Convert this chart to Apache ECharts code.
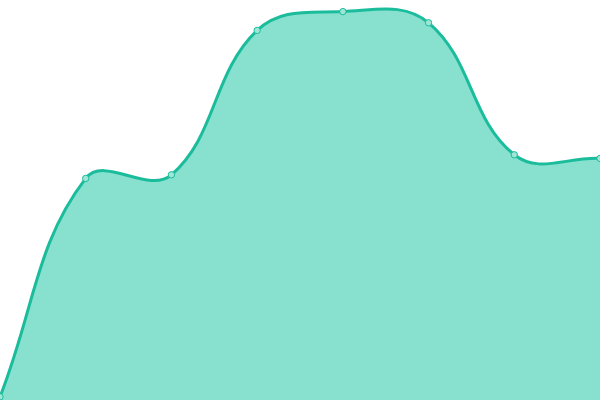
<!DOCTYPE html>
<html>
<head>
<meta charset="utf-8">
<style>
  html, body { margin: 0; padding: 0; background: #fff; }
  #main { width: 600px; height: 400px; }
</style>
<script src="https://cdn.jsdelivr.net/npm/echarts@6/dist/echarts.min.js"></script>
</head>
<body>
<div id="main"></div>
<script>
var categories = ["1", "2", "3", "4", "5", "6", "7", "8"];
var values = [0.8, 55.4, 56.3, 92.4, 97.1, 94.3, 61.3, 60.4];

var LINE = "#1abc9c";
var AREA = "#88e0cf";
var TENSION = 0.4;

var chart = echarts.init(document.getElementById("main"));

// cardinal-style bezier: tangent from prev -> next, split by segment length;
// end points use themselves as missing neighbour
function buildPath(pts, baseY, box) {
  var n = pts.length;
  var cps = pts.map(function (p, i) {
    var prev = pts[i - 1] || p;
    var next = pts[i + 1] || p;
    var d01 = Math.hypot(p[0] - prev[0], p[1] - prev[1]);
    var d12 = Math.hypot(next[0] - p[0], next[1] - p[1]);
    var s01 = d01 / (d01 + d12) || 0;
    var s12 = d12 / (d01 + d12) || 0;
    var fa = TENSION * s01, fb = TENSION * s12;
    var dx = next[0] - prev[0], dy = next[1] - prev[1];
    return {
      before: clamp([p[0] - fa * dx, p[1] - fa * dy]),
      after: clamp([p[0] + fb * dx, p[1] + fb * dy])
    };
  });
  function clamp(c) {
    return [Math.min(Math.max(c[0], box.x0), box.x1), Math.min(Math.max(c[1], box.y0), box.y1)];
  }
  var d = "M" + pts[0][0] + " " + pts[0][1];
  for (var i = 1; i < n; i++) {
    var a = cps[i - 1].after, b = cps[i].before, p = pts[i];
    d += " C" + a[0] + " " + a[1] + " " + b[0] + " " + b[1] + " " + p[0] + " " + p[1];
  }
  var area = d + " L" + pts[n - 1][0] + " " + baseY + " L" + pts[0][0] + " " + baseY + " Z";
  return { line: d, area: area };
}

function renderItem(params, api) {
  var idx = params.dataIndex;
  var pt = api.coord([idx, values[idx]]);
  var children = [];
  if (idx === 0) {
    var pts = values.map(function (v, i) { return api.coord([i, v]); });
    var baseY = api.coord([0, 0])[1];
    var box = {
      x0: params.coordSys.x, x1: params.coordSys.x + params.coordSys.width,
      y0: params.coordSys.y, y1: params.coordSys.y + params.coordSys.height
    };
    var paths = buildPath(pts, baseY, box);
    children.push({
      type: "path",
      shape: { pathData: paths.area },
      style: { fill: AREA, stroke: null },
      z2: 1
    });
    children.push({
      type: "path",
      shape: { pathData: paths.line },
      style: { fill: null, stroke: LINE, lineWidth: 3 },
      z2: 2
    });
  }
  children.push({
    type: "circle",
    shape: { cx: pt[0], cy: pt[1], r: 3.2 },
    style: { fill: "#a0e6d7", stroke: LINE, lineWidth: 1 },
    z2: 3
  });
  return { type: "group", children: children };
}

var option = {
  animation: false,
  grid: { left: 0, right: 0, top: 0, bottom: 0 },
  xAxis: {
    type: "category",
    boundaryGap: false,
    data: categories,
    show: false
  },
  yAxis: {
    type: "value",
    min: 0,
    max: 100,
    show: false
  },
  series: [
    {
      type: "custom",
      renderItem: renderItem,
      clip: false,
      data: values.map(function (v, i) { return [i, v]; })
    }
  ]
};
chart.setOption(option);
</script>
</body>
</html>
